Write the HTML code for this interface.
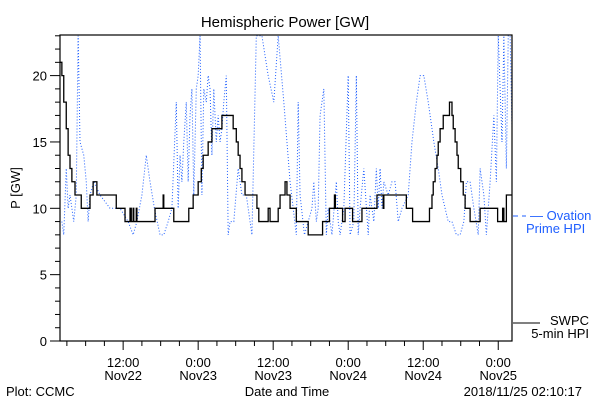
<!DOCTYPE html>
<html><head><meta charset="utf-8"><style>
body{margin:0;background:#fff;}
svg{display:block;font-family:"Liberation Sans",sans-serif;}
</style></head><body>
<svg id="chart" width="600" height="400" viewBox="0 0 600 400">
<rect width="600" height="400" fill="#fff"/>
<text x="285" y="27" font-size="15" text-anchor="middle">Hemispheric Power [GW]</text>
<text transform="translate(20,188) rotate(-90)" font-size="13" text-anchor="middle">P [GW]</text>
<g id="yt"></g>
<g id="xt"></g>
<defs><clipPath id="pc"><rect x="60" y="35" width="452" height="306"/></clipPath></defs>
<path id="blue" fill="none" stroke="#1f5fff" stroke-width="1" stroke-dasharray="1,2" clip-path="url(#pc)"/>
<path id="black" fill="none" stroke="#000" stroke-width="1.3" clip-path="url(#pc)"/>
<rect x="60" y="35" width="452" height="306" fill="none" stroke="#000" stroke-width="1.2"/>
<g>
<line x1="513" y1="216" x2="526" y2="216" stroke="#1f5fff" stroke-dasharray="5,4"/>
<text x="530" y="220" font-size="13" fill="#1f5fff">— Ovation</text>
<text x="526" y="233" font-size="13" fill="#1f5fff">Prime HPI</text>
<line x1="513" y1="323" x2="540" y2="323" stroke="#000"/>
<text x="589" y="325" font-size="13" text-anchor="end">SWPC</text>
<text x="589" y="338" font-size="13" text-anchor="end">5-min HPI</text>
</g>
<text x="6" y="396" font-size="13">Plot: CCMC</text>
<text x="287" y="396" font-size="13" text-anchor="middle">Date and Time</text>
<text x="582" y="396" font-size="13" text-anchor="end">2018/11/25 02:10:17</text>
</svg>
<script>
// time in hours since Nov22 00:00
const blackT=[1.9,2.2,2.5,2.9,3.2,3.5,3.8,4.3,5.3,6.7,7.2,7.8,10.9,12.3,13.1,13.3,13.6,13.7,14.1,14.2,17.1,18.4,18.5,20.1,22.5,23.2,24.0,24.5,24.8,25.6,26.2,27.8,29.6,30.1,30.4,30.7,31.0,31.5,33.4,33.7,35.2,35.5,36.8,37.1,37.9,38.2,38.7,39.7,41.6,43.9,45.0,45.8,45.95,47.1,47.5,48.7,50.2,52.6,53.6,53.7,57.3,58.3,61.0,61.4,61.6,61.9,62.2,62.4,62.7,63.2,64.2,64.6,64.8,65.1,65.4,65.6,66.0,66.4,66.7,67.5,69.1,71.9,72.7,72.9,73.3,73.6,74.2];
const blackV=[21,20,18,16,14,13,12,11,10,11,12,11,10,9,10,9,10,9,10,9,10,11,10,9,10,11,12,13,14,15,16,17,16,15,14,13,12,11,10,9,10,9,10,11,12,11,10,9,8,9,10,11,10,9,10,9,10,11,10,11,10,9,10,11,12,13,14,15,16,17,18,17,16,15,14,13,12,11,10,9,10,9,10,9,11,11,11];
const blueT=[2.2,2.5,2.9,3.2,3.5,3.8,4.1,4.5,4.8,5.1,5.7,6.1,6.4,6.7,7.3,8.3,9.9,11.5,12.8,13.6,14.2,15.0,15.7,16.3,17.0,17.9,18.5,19.2,19.8,20.5,20.8,21.1,21.4,21.7,22.1,22.4,22.7,23.0,23.3,23.7,24.0,24.3,24.6,24.9,25.3,25.6,25.9,26.2,26.5,26.9,27.2,27.5,27.8,28.1,28.5,28.8,29.1,29.7,30.4,31.0,31.7,32.3,32.6,33.3,34.2,35.2,36.1,36.8,37.7,38.7,39.7,40.0,40.3,41.0,41.6,42.2,42.5,42.9,43.2,43.5,43.8,44.1,44.5,44.8,45.4,46.1,46.4,46.7,47.3,48.0,48.3,48.9,49.3,49.6,49.9,50.5,51.2,51.5,52.1,52.5,52.8,53.1,53.4,53.7,54.4,55.0,55.5,56.0,56.6,57.6,58.2,58.9,59.5,60.1,60.8,61.7,62.4,63.0,64.0,64.6,65.3,65.9,66.5,66.9,67.5,68.1,68.8,69.1,69.7,70.1,70.7,71.3,71.7,72.0,72.6,72.9,73.3,73.6,73.9,74.2];
const blueV=[9,8,13,10,11,10,9,11,23,15,14,12,9,11,12,11,10,10,9,8,9,11,14,12,10,8,8,9,10,18,10,14,12,15,18,12,17,19,11,19,20,23,11,19,18,20,19,14,19,15,17,15,16,18,20,8,9,9,13,11,11,9,8,23,23,20,18,23,18,12,8,18,11,8,9,10,12,9,10,17,18,19,8,10,8,12,9,8,10,20,8,9,20,8,10,13,8,11,9,13,10,13,10,12,11,12,12,9,10,11,15,18,20,20,18,15,13,11,9,9,8,8,9,12,12,10,8,13,11,8,12,17,12,23,15,23,13,23,23,16];
const yTicks=[0,5,10,15,20];
const xTickHours=[12,24,36,48,60,72];
const xTimeLabels=["12:00","0:00","12:00","0:00","12:00","0:00"];
const xDateLabels=["Nov22","Nov23","Nov23","Nov24","Nov24","Nov25"];
const T0=1.9,T1=74.2,V1=23.06;
const X=t=>60+(t-T0)/(T1-T0)*452;
const Y=v=>341-v/V1*306;
const NS="http://www.w3.org/2000/svg";
function mk(tag,attrs,parent){const e=document.createElementNS(NS,tag);for(const k in attrs)e.setAttribute(k,attrs[k]);parent.appendChild(e);return e;}
let d="";
blackT.forEach((t,i)=>{d+= i===0?`M${X(t)},${Y(blackV[i])}`:`H${X(t)}V${Y(blackV[i])}`;});
d+=`H${X(T1)}`;
document.getElementById('black').setAttribute('d',d);
document.getElementById('blue').setAttribute('d',blueT.map((t,i)=>(i?'L':'M')+X(t)+','+Y(blueV[i])).join(''));
const yt=document.getElementById('yt');
for(let v=0;v<=23;v++){
  const major=v%5===0;
  const l=mk('line',{x1:major?50:55,x2:60,y1:Y(v),y2:Y(v),stroke:'#000'},yt);
  
  
}
yTicks.forEach(v=>{
  const t=mk('text',{x:47,y:Y(v)+5,'font-size':13,'text-anchor':'end'},yt);
  t.textContent=v;
  
  
});
const xt=document.getElementById('xt');
for(let h=3;h<=T1;h+=3){
  const major=h%12===0;
  const l=mk('line',{x1:X(h),x2:X(h),y1:341,y2:major?350:346,stroke:'#000'},xt);
  
  
}
xTickHours.forEach((h,i)=>{
  const a=mk('text',{x:X(h),y:367,'font-size':13,'text-anchor':'middle'},xt);
  a.textContent=xTimeLabels[i];
  
  
  const b=mk('text',{x:X(h),y:380,'font-size':13,'text-anchor':'middle'},xt);
  b.textContent=xDateLabels[i];
  
  
});
</script>
</body></html>
